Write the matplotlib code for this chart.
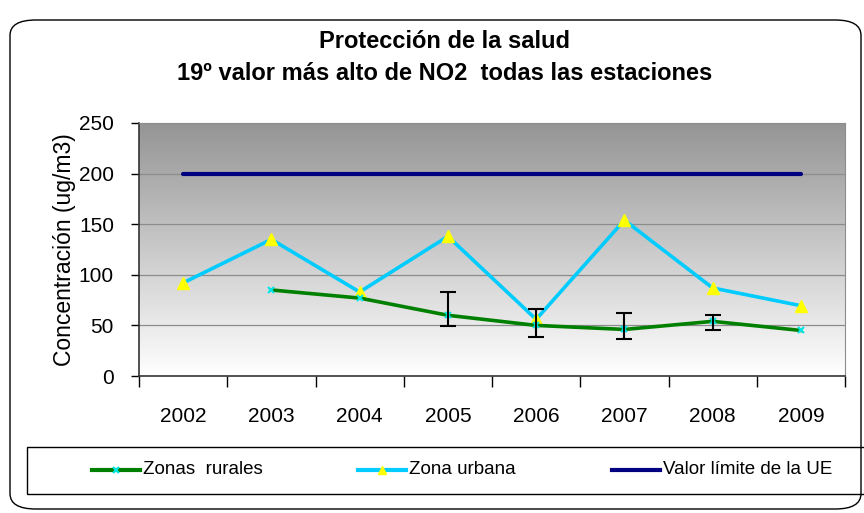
import numpy as np
import matplotlib.pyplot as plt
from matplotlib.patches import FancyBboxPatch, Rectangle
from matplotlib.lines import Line2D
from matplotlib.colors import LinearSegmentedColormap

plt.rcParams['font.family'] = ['Liberation Sans', 'DejaVu Sans']

years = ['2002', '2003', '2004', '2005', '2006', '2007', '2008', '2009']
rural = [np.nan, 85, 77, 60, 50, 46, 54, 45]
rural_low = [np.nan, np.nan, np.nan, 49, 39, 37, 45, np.nan]
rural_high = [np.nan, np.nan, np.nan, 83, 66, 62, 60, np.nan]
urbana = [92, 135, 83, 138, 56, 154, 87, 69.5]
limite = [200, 200, 200, 200, 200, 200, 200, 200]
series_names = ['Zonas  rurales', 'Zona urbana', 'Valor límite de la UE']

W, H = 864, 513
x = np.arange(len(years))

fig = plt.figure(figsize=(W / 100, H / 100), dpi=100)

# marco redondeado de la figura
marco = FancyBboxPatch((10 / W, 4 / H), 851 / W, 489 / H,
                       boxstyle='round,pad=0,rounding_size=0.03',
                       transform=fig.transFigure, fill=False,
                       edgecolor='black', linewidth=1.0, zorder=0)
fig.patches.append(marco)

ax = fig.add_axes([139 / W, 137 / H, 706 / W, 253 / H])
ax.set_xlim(-0.5, len(years) - 0.5)
ax.set_ylim(0, 250)

# fondo en degradado gris
grad = np.linspace(1, 0, 256).reshape(-1, 1)
ax.imshow(grad, extent=[-0.5, len(years) - 0.5, 0, 250], aspect='auto',
          cmap=LinearSegmentedColormap.from_list('g', ['#ffffff', '#959595']),
          zorder=0)

for yv in [50, 100, 150, 200]:
    ax.axhline(yv, color='#8c8c8c', linewidth=0.9, zorder=1)

ax.plot(x, limite, color='#000080', linewidth=3, zorder=3, solid_capstyle='round')
ax.plot(x, urbana, color='#00ccff', linewidth=2.6, marker='^', markersize=8,
        markerfacecolor='#ffff00', markeredgecolor='#ffff00', zorder=4)

r = np.array(rural, dtype=float)
lo = np.array(rural_low, dtype=float)
hi = np.array(rural_high, dtype=float)
mask = ~np.isnan(lo)
ax.errorbar(x[mask], r[mask], yerr=[r[mask] - lo[mask], hi[mask] - r[mask]],
            fmt='none', ecolor='black', elinewidth=1.5, capsize=6, capthick=1.5, zorder=5)
ax.plot(x, r, color='#008000', linewidth=2.6, marker='x', markersize=4,
        markeredgecolor='#00e5e5', markeredgewidth=1.5, zorder=4)

ax.set_yticks([0, 50, 100, 150, 200, 250])
ax.set_xticks(x)
ax.set_xticklabels(years)
ax.set_xticks(np.arange(-0.5, len(years)), minor=True)
ax.tick_params(axis='x', which='major', length=0, pad=22, labelsize=15)
ax.tick_params(axis='x', which='minor', length=8, width=1, direction='out')
ax.tick_params(axis='y', length=6, width=1, direction='out', labelsize=15, pad=12)
ax.set_ylabel('Concentración (ug/m3)', fontsize=16.5, labelpad=2)

for s in ['top', 'right']:
    ax.spines[s].set_color('#8c8c8c')
for s in ['left', 'bottom']:
    ax.spines[s].set_color('#333333')
    ax.spines[s].set_linewidth(1.2)

fig.text(0.515, 1 - 42 / H, 'Protección de la salud', ha='center', va='center',
         fontsize=17, fontweight='bold')
fig.text(0.515, 1 - 73 / H, '19º valor más alto de NO2  todas las estaciones',
         ha='center', va='center', fontsize=17, fontweight='bold')

# leyenda dibujada a mano debajo del gráfico
fig.patches.append(Rectangle((27 / W, 1 - 494 / H), 850 / W, 47 / H,
                             transform=fig.transFigure, fill=False,
                             edgecolor='black', linewidth=1.0))
estilos = [
    dict(color='#008000', linewidth=3, marker='x', markersize=4,
         markeredgecolor='#00e5e5', markeredgewidth=1.5),
    dict(color='#00ccff', linewidth=3, marker='^', markersize=6,
         markerfacecolor='#ffff00', markeredgecolor='#ffff00'),
    dict(color='#000080', linewidth=3),
]
inicios = [92, 358, 612]
ly = 1 - 470 / H
for nombre, est, x0 in zip(series_names, estilos, inicios):
    fig.add_artist(Line2D([x0 / W, (x0 + 48) / W], [ly, ly],
                          transform=fig.transFigure, **{k: v for k, v in est.items()
                                                        if not k.startswith('marker')}))
    if 'marker' in est:
        fig.add_artist(Line2D([(x0 + 24) / W], [ly], transform=fig.transFigure,
                              linestyle='none', **{k: v for k, v in est.items()
                                                   if k.startswith('marker')}))
    fig.text((x0 + 51) / W, ly, nombre, ha='left', va='center', fontsize=13.5)

fig.savefig('out.png', dpi=100)
